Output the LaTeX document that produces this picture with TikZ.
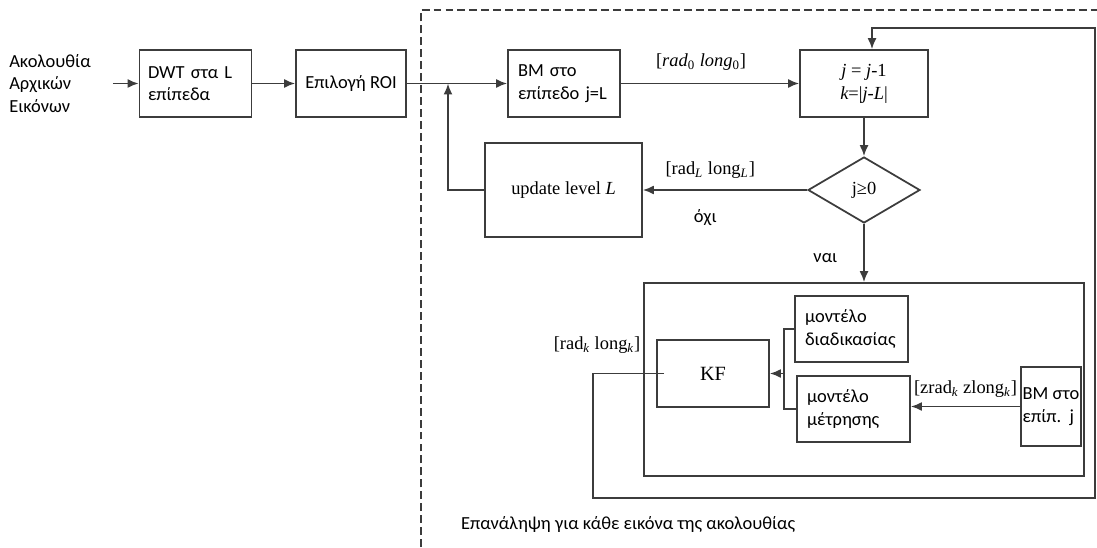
\documentclass[tikz,border=0pt]{standalone}
\usepackage{fontspec}
\setmainfont{Carlito}
\newfontfamily\tnr{Liberation Serif}
\usetikzlibrary{arrows.meta, positioning, shapes.geometric}
\definecolor{linegray}{RGB}{60,60,60}

\begin{document}
\begin{tikzpicture}[x=0.02cm, y=-0.02cm, font=\fontsize{10.5}{12.8}\selectfont,
  b/.style={draw=linegray, line width=1pt, minimum width=2.24cm,
            minimum height=1.34cm, inner sep=0pt},
  a/.style={draw=linegray, line width=1pt, -{Latex[length=2.2mm, width=1.8mm]}},
  ln/.style={draw=linegray, line width=1pt},
  rm/.style={font=\tnr\fontsize{10.5}{13}\selectfont}]
\useasboundingbox (0,0) rectangle (1097,547);
% frame of the loop over the images
\draw[ln, dash pattern=on 4.5pt off 2.3pt] (421,547) |- (1097,10);
\node[align=left] (seq) at (50,83.5) {Ακολουθία\\Αρχικών\\Εικόνων};
\node[b, align=left, text width=1.9cm, inner xsep=0.16cm] (dwt) at (195.5,83.5) {DWT στα~L\\επίπεδα};
\node[b, minimum width=2.2cm] (roi) at (351,83.5) {Επιλογή ROI};
\node[b, align=left, text width=1.84cm, inner xsep=0.2cm] (bm) at (564,83.5) {BM στο\\επίπεδο~j=L};
\node[b, rm, align=center, minimum width=2.56cm] (jbox) at (864,83.5) {\itshape j \upshape= \itshape j\upshape-1\\\itshape k\upshape=|\itshape j\upshape-\itshape L\upshape|};
\node[b, rm, diamond, aspect=1.7, minimum width=2.24cm, minimum height=1.32cm] (cond) at (864,190) {j≥0};
\node[b, rm, minimum width=3.14cm, minimum height=1.88cm] (upd) at (563.5,190) {update level \textit{L}};
\node[b, minimum width=8.8cm, minimum height=3.86cm] (rep) at (864,379.5) {};
\node[b, rm, font=\tnr\fontsize{11.5}{13}\selectfont] (kf) at (713,373.5) {KF};
\node[b, align=left, text width=1.86cm, inner xsep=0.2cm, minimum height=1.32cm] (proc) at (851.5,329) {μοντέλο\\διαδικασίας};
\node[b, align=left, text width=1.86cm, inner xsep=0.2cm, minimum height=1.32cm] (meas) at (853.5,409) {μοντέλο\\μέτρησης};
\node[b, align=left, minimum width=1.2cm, minimum height=1.58cm] (bmj) at (1051,406.5) {BM στο\\επίπ.\ \ j};
\node[rm] (radk) at (597,345) {[rad\textsubscript{\itshape k} long\textsubscript{\itshape k}]};
\node[anchor=west] (cap) at (455,524) {Επανάληψη για κάθε εικόνα της ακολουθίας};
\coordinate (jn) at (448,83.5);
\coordinate (br) at (785,373.5);
\coordinate (lp1) at (593,498);
\coordinate (lp2) at (1095,28);

\draw[a] ([xshift=0.32cm]seq.east) -- (dwt);
\draw[a] (dwt) -- (roi);
\draw[a] (roi) -- (bm);
\draw[a] (bm) -- node[rm, pos=0.45, above=0.12cm] {[\textit{rad}\textsubscript{0} \textit{long}\textsubscript{0}]} (jbox);
\draw[a] (jbox) -- (cond);
\draw[a] (cond) -- node[rm, pos=0.59, above=0.1cm] {[rad\textsubscript{\itshape L} long\textsubscript{\itshape L}]}
  node[pos=0.62, below=0.26cm] {όχι} (upd);
\draw[a] (upd.west) -| (jn);
\draw[a] (cond) -- node[pos=0.58, left=0.4cm] {ναι} (rep);
\draw[a] (bmj.west) -- node[rm, above=0.05cm] {[zrad\textsubscript{\itshape k} zlong\textsubscript{\itshape k}]} (bmj.west -| meas.east);
\draw[ln] (proc.west) -- ++(-10,0) |- (meas.west);
\draw[a] (br) -- (kf.east);
\draw[a] ([xshift=0.16cm]kf.west) -| (lp1) -| (lp2) -| ([xshift=0.16cm]jbox.north);
\end{tikzpicture}
\end{document}
